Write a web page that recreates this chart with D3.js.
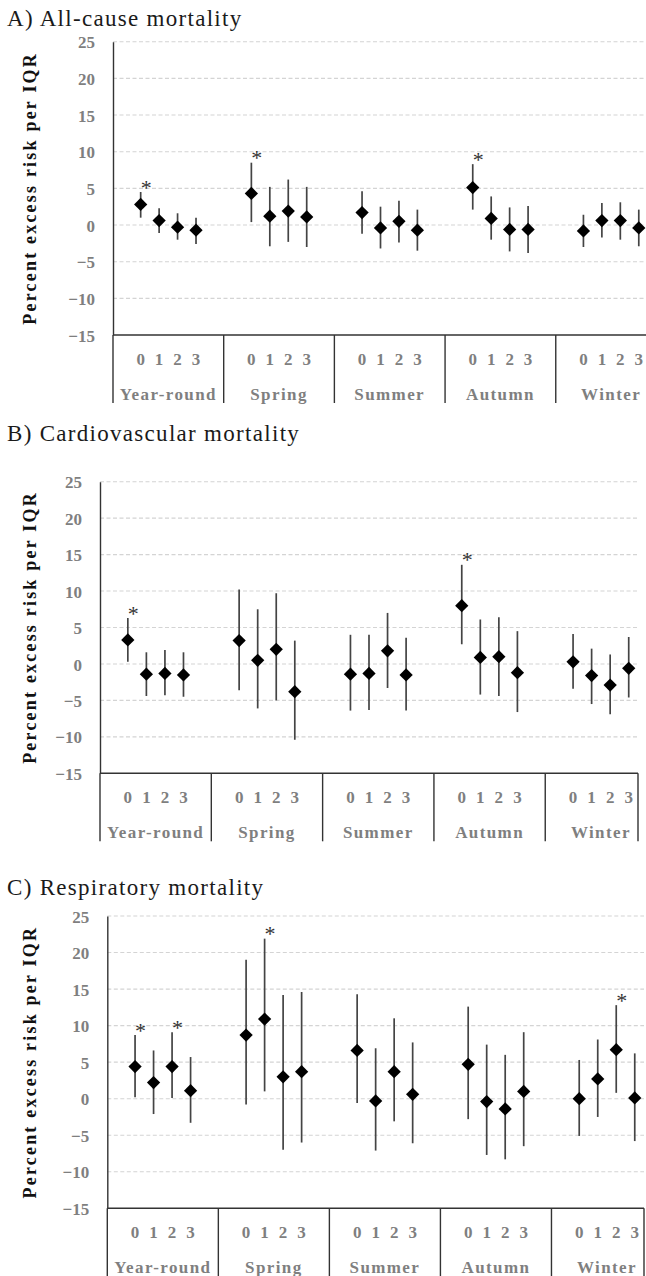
<!DOCTYPE html>
<html>
<head>
<meta charset="utf-8">
<script src="https://cdn.jsdelivr.net/npm/d3@7/dist/d3.min.js"></script>
<style>
  html, body { margin: 0; padding: 0; background: #fff; }
  svg { display: block; }
</style>
</head>
<body>
<svg id="chart" width="646" height="1276" font-family="Liberation Serif"></svg>
<script>
// ---------- data ----------
const seasons = ["Year-round", "Spring", "Summer", "Autumn", "Winter"];
const lags = ["0", "1", "2", "3"];
const yTicks = [-15, -10, -5, 0, 5, 10, 15, 20, 25];
const panelTitles = ["A) All-cause mortality", "B) Cardiovascular mortality", "C) Respiratory mortality"];
const yAxisTitle = "Percent excess risk per IQR";

// order: season by season, lags 0..3
const allCauseEst = [2.8, 0.6, -0.3, -0.7, 4.3, 1.2, 1.9, 1.1, 1.7, -0.4, 0.5, -0.7, 5.1, 0.9, -0.6, -0.6, -0.8, 0.6, 0.6, -0.4];
const allCauseLo  = [1.0, -1.1, -2.0, -2.6, 0.4, -2.9, -2.3, -3.0, -1.2, -3.2, -2.4, -3.5, 2.1, -2.0, -3.6, -3.8, -3.0, -1.7, -2.0, -2.9];
const allCauseHi  = [4.5, 2.3, 1.6, 1.0, 8.5, 5.2, 6.2, 5.2, 4.6, 2.5, 3.3, 2.1, 8.3, 3.9, 2.4, 2.6, 1.4, 3.0, 3.1, 2.1];
const allCauseSig = [1, 0, 0, 0, 1, 0, 0, 0, 0, 0, 0, 0, 1, 0, 0, 0, 0, 0, 0, 0];

const cardioEst = [3.3, -1.4, -1.3, -1.5, 3.2, 0.5, 2.0, -3.8, -1.4, -1.3, 1.8, -1.5, 8.0, 0.9, 1.0, -1.2, 0.3, -1.6, -2.9, -0.6];
const cardioLo  = [0.3, -4.4, -4.3, -4.5, -3.6, -6.1, -5.0, -10.4, -6.4, -6.3, -3.3, -6.4, 2.7, -4.2, -4.4, -6.6, -3.4, -5.5, -6.9, -4.6];
const cardioHi  = [6.3, 1.6, 1.9, 1.6, 10.2, 7.5, 9.7, 3.2, 4.0, 4.0, 7.0, 3.6, 13.6, 6.1, 6.4, 4.5, 4.1, 2.1, 1.3, 3.7];
const cardioSig = [1, 0, 0, 0, 0, 0, 0, 0, 0, 0, 0, 0, 1, 0, 0, 0, 0, 0, 0, 0];

const respEst = [4.4, 2.2, 4.4, 1.1, 8.7, 10.9, 3.0, 3.7, 6.6, -0.3, 3.7, 0.6, 4.7, -0.4, -1.4, 1.0, 0.0, 2.7, 6.7, 0.1];
const respLo  = [0.2, -2.1, 0.1, -3.3, -0.8, 1.0, -7.0, -6.0, -0.6, -7.1, -3.1, -6.1, -2.8, -7.7, -8.3, -6.5, -5.1, -2.5, 0.8, -5.8];
const respHi  = [8.7, 6.6, 9.1, 5.7, 19.0, 21.9, 14.2, 14.6, 14.3, 6.9, 11.0, 7.7, 12.6, 7.4, 6.0, 9.1, 5.3, 8.1, 12.8, 6.2];
const respSig = [1, 0, 1, 0, 0, 1, 0, 0, 0, 0, 0, 0, 0, 0, 0, 0, 0, 0, 1, 0];

const seriesEst = [allCauseEst, cardioEst, respEst];
const seriesLo  = [allCauseLo, cardioLo, respLo];
const seriesHi  = [allCauseHi, cardioHi, respHi];
const seriesSig = [allCauseSig, cardioSig, respSig];

// ---------- layout ----------
const FONT = "Liberation Serif";
const layouts = [
  { titleY: 26,  left: 113,   right: 648,  top: 41.7,  bottom: 335 },
  { titleY: 441, left: 100,   right: 638,  top: 481.7, bottom: 773.3 },
  { titleY: 895, left: 107.3, right: 644,  top: 916,   bottom: 1208.3 }
];
const slotsPerGroup = 6;
const totalSlots = seasons.length * slotsPerGroup - 1;

const svg = d3.select("#chart");
const grey = "#7f7f7f";

layouts.forEach((L, p) => {
  const g = svg.append("g").attr("font-family", FONT);
  const x = d3.scaleLinear().domain([0, totalSlots]).range([L.left, L.right]);
  const y = d3.scaleLinear().domain([-15, 25]).range([L.bottom, L.top]);

  const rows = seasons.flatMap((s, si) => lags.map((l, li) => ({
    season: s, si, lag: l, li,
    slot: si * slotsPerGroup + 1 + li + 0.5,
    est: seriesEst[p][si * 4 + li],
    lo: seriesLo[p][si * 4 + li],
    hi: seriesHi[p][si * 4 + li],
    sig: seriesSig[p][si * 4 + li]
  })));

  // title
  g.append("text")
    .attr("x", 7).attr("y", L.titleY)
    .attr("font-family", FONT)
    .attr("font-size", 23).attr("letter-spacing", 1.3)
    .attr("fill", "#1a1a1a")
    .text(panelTitles[p]);

  // gridlines
  g.selectAll("line.grid").data(yTicks.filter(t => t > -15)).enter().append("line")
    .attr("class", "grid")
    .attr("x1", L.left).attr("x2", L.right)
    .attr("y1", d => y(d)).attr("y2", d => y(d))
    .attr("stroke", "#d4d4d4").attr("stroke-width", 1.1)
    .attr("stroke-dasharray", "4,2.5");

  // y axis via d3.axisLeft
  const yAxis = d3.axisLeft(y).tickValues(yTicks).tickSize(0).tickPadding(18);
  const ya = g.append("g").attr("transform", `translate(${L.left},0)`).call(yAxis)
    .attr("font-family", FONT);
  ya.select(".domain").attr("stroke", "#333").attr("stroke-width", 1.4);
  ya.selectAll(".tick text")
    .attr("font-family", FONT)
    .attr("font-size", 17).attr("font-weight", "bold")
    .attr("fill", grey)
    .attr("dy", "0.36em");

  // x axis line
  g.append("line")
    .attr("x1", L.left).attr("x2", L.right)
    .attr("y1", y(-15)).attr("y2", y(-15))
    .attr("stroke", "#333").attr("stroke-width", 1.4);

  // group separators
  const seps = d3.range(seasons.length).map(i => i * slotsPerGroup).concat([totalSlots]);
  g.selectAll("line.sep").data(seps).enter().append("line")
    .attr("class", "sep")
    .attr("x1", d => x(d)).attr("x2", d => x(d))
    .attr("y1", y(-15)).attr("y2", y(-15) + 68)
    .attr("stroke", "#333").attr("stroke-width", 1.4);

  // lag labels
  g.selectAll("text.lag").data(rows).enter().append("text")
    .attr("class", "lag")
    .attr("x", d => x(d.slot)).attr("y", y(-15) + 30)
    .attr("text-anchor", "middle")
    .attr("font-family", FONT)
    .attr("font-size", 17).attr("font-weight", "bold").attr("fill", grey)
    .text(d => d.lag);

  // season labels
  g.selectAll("text.season").data(seasons).enter().append("text")
    .attr("class", "season")
    .attr("x", (d, i) => x(i * slotsPerGroup + 3))
    .attr("y", y(-15) + 65)
    .attr("text-anchor", "middle")
    .attr("font-family", FONT)
    .attr("font-size", 17).attr("font-weight", "bold").attr("fill", grey)
    .attr("letter-spacing", 1.4)
    .text(d => d);

  // y axis title
  g.append("text")
    .attr("transform", `translate(36,${(L.top + L.bottom) / 2}) rotate(-90)`)
    .attr("text-anchor", "middle")
    .attr("font-family", FONT)
    .attr("font-size", 18).attr("font-weight", "bold").attr("fill", "#111")
    .attr("letter-spacing", 2.2)
    .text(yAxisTitle);

  // error bars
  g.selectAll("line.err").data(rows).enter().append("line")
    .attr("class", "err")
    .attr("x1", d => x(d.slot)).attr("x2", d => x(d.slot))
    .attr("y1", d => y(d.lo)).attr("y2", d => y(d.hi))
    .attr("stroke", "#444").attr("stroke-width", 1.7);

  // diamonds
  const sym = d3.symbol().type(d3.symbolSquare).size(88);
  g.selectAll("path.pt").data(rows).enter().append("path")
    .attr("class", "pt")
    .attr("d", sym)
    .attr("transform", d => `translate(${x(d.slot)},${y(d.est)}) rotate(45)`)
    .attr("fill", "#000");

  // significance asterisks
  g.selectAll("text.sig").data(rows.filter(d => d.sig)).enter().append("text")
    .attr("class", "sig")
    .attr("x", d => x(d.slot) + 5.5).attr("y", d => y(d.hi) + 2.5)
    .attr("text-anchor", "middle")
    .attr("font-family", FONT)
    .attr("font-size", 22).attr("fill", "#333")
    .text("*");
});
</script>
</body>
</html>
